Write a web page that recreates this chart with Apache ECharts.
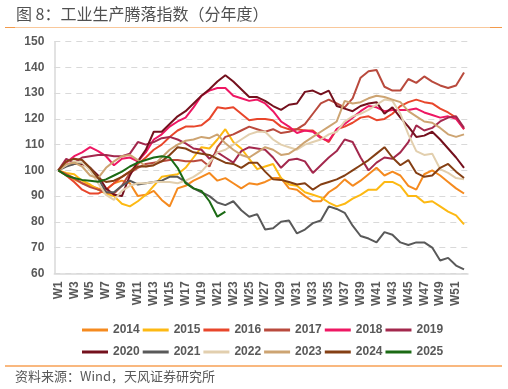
<!DOCTYPE html>
<html>
<head>
<meta charset="utf-8">
<script src="https://cdn.jsdelivr.net/npm/echarts@6.0.0/dist/echarts.min.js"></script>
<style>
html,body{margin:0;padding:0;background:#fff;}
#chart{width:508px;height:389px;}
</style>
</head>
<body>
<div id="chart"></div>
<script>
var weeks = [];
for (var i = 1; i <= 52; i++) weeks.push('W' + i);

var yTicks = [60, 70, 80, 90, 100, 110, 120, 130, 140, 150];
var years = ['2014','2015','2016','2017','2018','2019','2020','2021','2022','2023','2024','2025'];
var colors = ['#F58A1F','#FDB913','#E8462B','#B94A3D','#EE1763','#A3284D','#74101D','#595959','#E2CFAE','#CDA472','#843F14','#1B6A14'];

var s2014 = [100,98.5,96.5,95,94,93,92.5,95,96,95,90,90.5,92,88.5,86,93,94,96,97.5,99,96,97,95,93,95,94.5,95.5,97,97,93,92.5,90,88,88,91.5,93.5,96.5,94,96,98.5,101,98,99.5,98,94,92.5,98.5,100,98,95.5,93,91];
var s2015 = [100,99,98.5,96,94.5,92.5,91,90,87,86,88,90.5,94,97.5,98,98.5,101,105,109,108.5,112,116,111,108.5,104.5,100.5,101.5,102.5,97,94.5,94,91.5,90.5,89.5,87.5,86,87,89,90.5,92.5,92.5,95.5,95.5,94,90,90,87.5,88,86,84,82.5,79];
var s2016 = [100,98,95.5,92.5,91,91,92.5,95,97.5,99.5,102.5,105,108,110,113,115.5,117,117,117.5,120,124.5,124,124.5,122,119.5,120,120,119.5,117,116,116,115.5,115.5,113,111,116,117,118.5,120.5,121,119.5,120,122,125,126.5,127.5,126.5,126,124,122.5,120.5,116];
var s2017 = [100,98.5,97,95,93.5,92.5,91.5,91,94,99,101,102.5,103,103.5,104,104,103.5,103.5,104,101.5,109,113,114,115.5,117,116,115,116,114.5,115,116,118,122,126,127.5,126,124.5,128,136,138.5,139,132.5,131,131,135.5,134,136.5,134.5,133,132,133,138];
var s2018 = [100,103,105.5,107,109,107.5,105.5,102,104.5,105,103.5,107,112,114,117,119,120.5,124.5,129,131,132,132,129,128,127,127.5,126,123,119,117,114.5,115.5,115,112.5,111.5,116,118,120.5,123,125,124.5,123,123.5,123.5,123.5,124,122.5,121.5,120.5,121,120,116];
var s2019 = [100,104.5,103,105,105.5,106,106,105.5,105.5,106.5,111,110,111,112.5,113,112,110.5,108.5,108,104.5,107,105,103,107.5,109,108.5,108,105,101,104,104.5,103.5,99,102,105,107.5,112,111,105,100,103,105,104.5,107,111,117.5,115.5,116.5,119,120.5,121,116.5];
var s2020 = [100,102,102.5,102.5,101,98,93,90.5,90,98,103.5,108,115,115,118,121,123,126,129,131.5,134.5,137,134.5,131.5,128.5,128.5,127,125,123.5,125.5,126,130.5,131,129.5,131,125,124,123,125,126,126.5,122,124.5,120.5,117,113,113.5,115,112,108.5,105,101];
var s2021 = [100,101.5,102.5,103,101,97,91.5,91.5,94,96,94.5,95,95.5,96,97.5,97.5,95.5,93,91.5,90,87.5,86.5,88,84.5,82,83,77,77.5,80,80.5,75.5,77,79.5,80.5,86,85,83.5,78.5,74.5,73.5,72,76,75,72,71,72,72,70,65,66,63,61.5];
var s2022 = [100,102,103.5,103,100,95,90.5,88.5,92,94,95,95,95.5,95.5,95.5,95,96,97.5,99.5,103,107,108,110,112,114,115,115,112,110,109,108,110,111,112,114,115,119,121,122,123.5,125.5,127.5,127,122,114,107.5,106,106.5,100.5,99,97,96.5];
var s2023 = [100,102.5,103,101.5,98,97,101,103.5,105.5,106,104,101.5,102,105,108,110,111.5,112,113,112.5,114,110.5,108,106,105,107,109,108,106,106.5,108.5,111,113,115,117,119,127,126,126.5,128,129,128.5,127.5,126.5,123,121,119,118.5,116.5,114,113,114];
var s2024 = [100,103.5,104.5,104,101,97,95.5,96,97.5,99.5,101.5,101.5,102,103.5,106,109,108.5,107,106.5,106,104.5,103,102.5,101,103,103,99.5,96.5,96.3,95.5,94.5,95,92.5,94.5,95.5,96.5,98,100,102,104,106.5,109,105,102,104,99,97.5,98,101,102.5,99.5,97];
var s2025 = [100,98,97,96.3,96,95.6,96.5,98,99.5,101.5,103,104,105,105.5,105,101,95,93,92,88,82,84];

var seriesData = [s2014,s2015,s2016,s2017,s2018,s2019,s2020,s2021,s2022,s2023,s2024,s2025];

var chart = echarts.init(document.getElementById('chart'), null, {renderer: 'canvas'});

var series = years.map(function (y, idx) {
  return {
    name: y,
    type: 'line',
    data: seriesData[idx],
    symbol: 'none',
    showSymbol: false,
    smooth: false,
    lineStyle: {width: 2, color: colors[idx]},
    itemStyle: {color: colors[idx]},
    emphasis: {disabled: true},
    animation: false
  };
});

var legendText = {fontSize: 12, fontWeight: 'bold', color: '#595959', fontFamily: 'Liberation Sans, Arial, sans-serif'};

chart.setOption({
  animation: false,
  backgroundColor: '#ffffff',
  legend: [
    {
      data: years.slice(0, 6), left: 77, top: 319, icon: 'rect', itemWidth: 26, itemHeight: 3,
      itemGap: 3, textStyle: legendText, selectedMode: false
    },
    {
      data: years.slice(6), left: 77, top: 341, icon: 'rect', itemWidth: 26, itemHeight: 3,
      itemGap: 3, textStyle: legendText, selectedMode: false
    }
  ],
  grid: {left: 54.3, right: 40, top: 41.7, bottom: 389 - 273.3, containLabel: false},
  xAxis: {
    type: 'category',
    data: weeks,
    boundaryGap: true,
    axisLine: {show: true, lineStyle: {color: '#D9D9D9', width: 1.5}},
    axisTick: {show: false},
    axisLabel: {interval: 1, rotate: 90, margin: 8, fontSize: 12, fontWeight: 'bold', color: '#595959', fontFamily: 'Liberation Sans, Arial, sans-serif'},
    splitLine: {show: false}
  },
  yAxis: {
    type: 'value',
    min: yTicks[0],
    max: yTicks[yTicks.length - 1],
    interval: 10,
    axisLine: {show: true, lineStyle: {color: '#D9D9D9', width: 1.5}},
    axisTick: {show: false},
    axisLabel: {margin: 10, fontSize: 12, fontWeight: 'bold', color: '#595959', fontFamily: 'Liberation Sans, Arial, sans-serif'},
    splitLine: {show: true, lineStyle: {color: '#D9D9D9', width: 1, type: [6, 5]}}
  },
  graphic: [
    {type: 'text', left: 16, top: 6, style: {text: '图 8：工业生产腾落指数（分年度）', fontSize: 16, fontWeight: 'normal', fill: '#505050', fontFamily: 'Noto Sans CJK SC, sans-serif'}},
    {type: 'line', shape: {x1: 5, y1: 27.5, x2: 502, y2: 27.5}, style: {stroke: '#F9C89B', lineWidth: 1}},
    {type: 'line', shape: {x1: 5, y1: 27.5, x2: 15, y2: 27.5}, style: {stroke: '#F39A4B', lineWidth: 1}},
    {type: 'line', shape: {x1: 490, y1: 27.5, x2: 502, y2: 27.5}, style: {stroke: '#F39A4B', lineWidth: 1}},
    {type: 'line', shape: {x1: 5, y1: 366, x2: 502, y2: 366}, style: {stroke: '#F7A154', lineWidth: 1.5}},
    {type: 'text', left: 15, top: 370, style: {text: '资料来源：Wind，天风证券研究所', fontSize: 13, fill: '#595959', fontFamily: 'Noto Sans CJK SC, sans-serif'}}
  ],
  series: series
});
</script>
</body>
</html>
